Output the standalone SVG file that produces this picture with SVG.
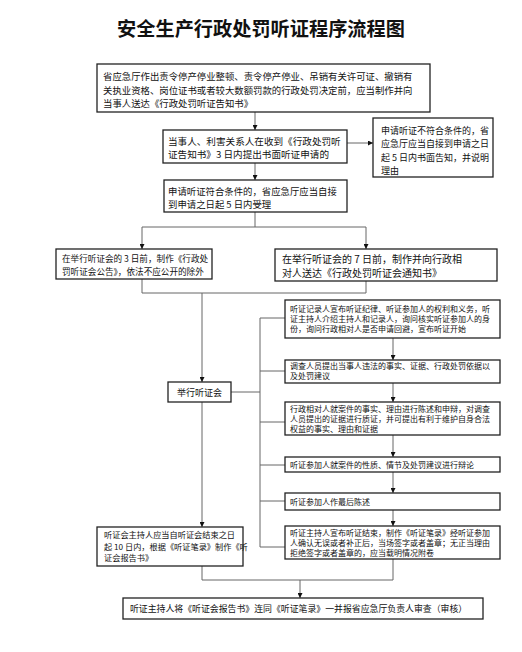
<svg xmlns="http://www.w3.org/2000/svg" width="522" height="652" viewBox="0 0 522 652">
<style>
.bg{fill:#fff}
.box{fill:#fff;stroke:#222;stroke-width:1.3}
.t{font-family:"Noto Sans CJK SC","Liberation Sans",sans-serif;fill:#111}
.title{font-family:"Noto Sans CJK SC","Liberation Serif",serif;font-weight:bold;fill:#111}
.ln{fill:none;stroke:#666;stroke-width:1}
</style>
<defs>
<marker id="arr" viewBox="0 0 10 10" refX="10" refY="5" markerWidth="5" markerHeight="5" orient="auto" markerUnits="userSpaceOnUse">
<path d="M0,0 L10,5 L0,10 z" fill="#111"/>
</marker>
</defs>
<rect class="bg" x="0" y="0" width="522" height="652"/>
<text class="title" x="261" y="36" font-size="19.2" text-anchor="middle">安全生产行政处罚听证程序流程图</text>

<g id="connectors">
<line class="ln" x1="255" y1="112" x2="255" y2="130" marker-end="url(#arr)"/>
<line class="ln" x1="347" y1="143" x2="373" y2="143" marker-end="url(#arr)"/>
<line class="ln" x1="255" y1="163" x2="255" y2="180" marker-end="url(#arr)"/>
<polyline class="ln" points="255,212 255,227"/>
<polyline class="ln" points="142,227 366,227"/>
<line class="ln" x1="142" y1="227" x2="142" y2="249" marker-end="url(#arr)"/>
<line class="ln" x1="366" y1="227" x2="366" y2="249" marker-end="url(#arr)"/>
<polyline class="ln" points="142,279 142,293 366,293 366,281"/>
<line class="ln" x1="202" y1="293" x2="202" y2="382" marker-end="url(#arr)"/>
<line class="ln" x1="231" y1="392" x2="260" y2="392"/>
<line class="ln" x1="260" y1="318" x2="260" y2="547"/>
<line class="ln" x1="260" y1="318" x2="285" y2="318"/>
<line class="ln" x1="260" y1="371" x2="285" y2="371"/>
<line class="ln" x1="260" y1="422" x2="285" y2="422"/>
<line class="ln" x1="260" y1="465" x2="285" y2="465"/>
<line class="ln" x1="260" y1="501" x2="285" y2="501"/>
<line class="ln" x1="260" y1="547" x2="285" y2="547"/>
<line class="ln" x1="393" y1="338" x2="393" y2="360" marker-end="url(#arr)"/>
<line class="ln" x1="393" y1="383" x2="393" y2="402" marker-end="url(#arr)"/>
<line class="ln" x1="393" y1="435" x2="393" y2="457" marker-end="url(#arr)"/>
<line class="ln" x1="393" y1="472" x2="393" y2="493" marker-end="url(#arr)"/>
<line class="ln" x1="393" y1="510" x2="393" y2="526" marker-end="url(#arr)"/>
<line class="ln" x1="202" y1="402" x2="202" y2="527" marker-end="url(#arr)"/>
<polyline class="ln" points="202,566 202,580 393,580 393,559"/>
<line class="ln" x1="300" y1="580" x2="300" y2="598" marker-end="url(#arr)"/>
</g>

<g id="n1">
<rect class="box" x="97" y="64" width="333" height="48"/>
<text class="t" font-size="9.4"><tspan x="103" y="80">省应急厅作出责令停产停业整顿、责令停产停业、吊销有关许可证、撤销有</tspan><tspan x="103" y="93.5">关执业资格、岗位证书或者较大数额罚款的行政处罚决定前，应当制作并向</tspan><tspan x="103" y="107">当事人送达《行政处罚听证告知书》</tspan></text>
</g>
<g id="n2">
<rect class="box" x="163" y="130" width="184" height="33"/>
<text class="t" font-size="9.6"><tspan x="168" y="144.5">当事人、利害关系人在收到《行政处罚听</tspan><tspan x="168" y="157.5">证告知书》3 日内提出书面听证申请的</tspan></text>
</g>
<g id="n3">
<rect class="box" x="373" y="118" width="120" height="59"/>
<text class="t" font-size="9"><tspan x="381" y="133.5">申请听证不符合条件的，省</tspan><tspan x="381" y="147">应急厅应当自接到申请之日</tspan><tspan x="381" y="160.5">起 5 日内书面告知，并说明</tspan><tspan x="381" y="174">理由</tspan></text>
</g>
<g id="n4">
<rect class="box" x="164" y="180" width="183" height="32"/>
<text class="t" font-size="9.4"><tspan x="168" y="195">申请听证符合条件的，省应急厅应当自接</tspan><tspan x="168" y="208">到申请之日起 5 日内受理</tspan></text>
</g>
<g id="n5">
<rect class="box" x="56" y="249" width="156" height="30"/>
<text class="t" font-size="8.6"><tspan x="62" y="262">在举行听证会的 3 日前，制作《行政处</tspan><tspan x="62" y="274.5">罚听证会公告》，依法不应公开的除外</tspan></text>
</g>
<g id="n6">
<rect class="box" x="275" y="249" width="222" height="32"/>
<text class="t" font-size="10"><tspan x="282" y="262.5">在举行听证会的 7 日前，制作并向行政相</tspan><tspan x="282" y="276.8">对人送达《行政处罚听证会通知书》</tspan></text>
</g>
<g id="n7">
<rect class="box" x="168" y="382" width="63" height="20"/>
<text class="t" font-size="9" x="199.5" y="395.5" text-anchor="middle">举行听证会</text>
</g>
<g id="n8">
<rect class="box" x="285" y="300" width="215" height="38"/>
<text class="t" font-size="8"><tspan x="290" y="311.5">听证记录人宣布听证纪律、听证参加人的权利和义务，听</tspan><tspan x="290" y="321.5">证主持人介绍主持人和记录人，询问核实听证参加人的身</tspan><tspan x="290" y="331.5">份，询问行政相对人是否申请回避，宣布听证开始</tspan></text>
</g>
<g id="n9">
<rect class="box" x="285" y="360" width="215" height="23"/>
<text class="t" font-size="8"><tspan x="290" y="369">调查人员提出当事人违法的事实、证据、行政处罚依据以</tspan><tspan x="290" y="379">及处罚建议</tspan></text>
</g>
<g id="n10">
<rect class="box" x="285" y="402" width="215" height="33"/>
<text class="t" font-size="8"><tspan x="290" y="412">行政相对人就案件的事实、理由进行陈述和申辩，对调查</tspan><tspan x="290" y="422">人员提出的证据进行质证，并可提出有利于维护自身合法</tspan><tspan x="290" y="432">权益的事实、理由和证据</tspan></text>
</g>
<g id="n11">
<rect class="box" x="285" y="457" width="215" height="15"/>
<text class="t" font-size="8" x="290" y="467.5">听证参加人就案件的性质、情节及处罚建议进行辩论</text>
</g>
<g id="n12">
<rect class="box" x="285" y="493" width="215" height="17"/>
<text class="t" font-size="8" x="290" y="504.5">听证参加人作最后陈述</text>
</g>
<g id="n13">
<rect class="box" x="285" y="526" width="215" height="33"/>
<text class="t" font-size="8"><tspan x="290" y="536">听证主持人宣布听证结束，制作《听证笔录》经听证参加</tspan><tspan x="290" y="546">人确认无误或者补正后，当场签字或者盖章；无正当理由</tspan><tspan x="290" y="556">拒绝签字或者盖章的，应当载明情况附卷</tspan></text>
</g>
<g id="n14">
<rect class="box" x="97" y="527" width="146" height="39"/>
<text class="t" font-size="8.2"><tspan x="104" y="538">听证会主持人应当自听证会结束之日</tspan><tspan x="104" y="549.5">起 10 日内，根据《听证笔录》制作《听</tspan><tspan x="104" y="561">证会报告书》</tspan></text>
</g>
<g id="n15">
<rect class="box" x="123" y="598" width="360" height="21"/>
<text class="t" font-size="8.9" x="130" y="612">听证主持人将《听证会报告书》连同《听证笔录》一并报省应急厅负责人审查（审核）</text>
</g>
</svg>
